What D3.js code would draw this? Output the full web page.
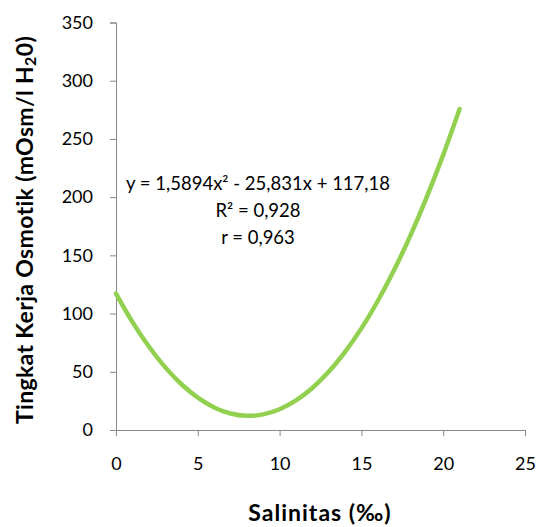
<!DOCTYPE html>
<html>
<head>
<meta charset="utf-8">
<script src="https://cdn.jsdelivr.net/npm/d3@7"></script>
<style>
  body { margin: 0; background: #fff; }
  svg { display: block; font-family: Lato, "Liberation Sans", sans-serif; }
</style>
</head>
<body>
<div id="chart"></div>
<script>
// salinitas (‰) dan tingkat kerja osmotik
const salinity = [0, 1, 2, 3, 4, 5, 6, 7, 8, 9, 10, 11, 12, 13, 14, 15, 16, 17, 18, 19, 20, 21];
const osmotic = [117.2, 92.9, 71.9, 54.0, 39.3, 27.8, 19.4, 14.2, 12.2, 13.4, 17.8, 25.4, 36.1, 50.0, 67.1, 87.3, 110.8, 137.4, 167.2, 200.2, 236.3, 275.6];
const xTicks = [0, 5, 10, 15, 20, 25];
const yTicks = [0, 50, 100, 150, 200, 250, 300, 350];
const eqLines = ['y = 1,5894x² - 25,831x + 117,18', 'R² = 0,928', 'r = 0,963'];

const width = 538, height = 527;
const svg = d3.select('#chart').append('svg')
  .attr('width', width)
  .attr('height', height);

const x = d3.scaleLinear().domain([0, 25]).range([116, 525]);
const y = d3.scaleLinear().domain([0, 350]).range([430, 22.5]);

// sumbu y
const yAxis = svg.append('g')
  .attr('transform', `translate(${x(0)},0)`)
  .call(d3.axisLeft(y).tickValues(yTicks).tickSize(6).tickPadding(17));
// sumbu x
const xAxis = svg.append('g')
  .attr('transform', `translate(0,${y(0)})`)
  .call(d3.axisBottom(x).tickValues(xTicks).tickSize(6).tickPadding(21));

[yAxis, xAxis].forEach(a => {
  a.selectAll('path, line').attr('stroke', '#888').attr('stroke-width', 1);
  a.selectAll('text').attr('font-size', 18).attr('fill', '#000')
    .attr('font-family', 'Lato, "Liberation Sans", sans-serif');
});

// kurva
const line = d3.line()
  .x((d, i) => x(salinity[i]))
  .y(d => y(d))
  .curve(d3.curveCatmullRom);

svg.append('path')
  .datum(osmotic)
  .attr('d', line)
  .attr('fill', 'none')
  .attr('stroke', '#92D050')
  .attr('stroke-width', 4.5)
  .attr('stroke-linecap', 'round');

// persamaan
svg.append('g').selectAll('text')
  .data(eqLines)
  .join('text')
  .attr('x', 258)
  .attr('y', (d, i) => 190 + i * 27)
  .attr('text-anchor', 'middle')
  .attr('font-size', 18.5)
  .attr('fill', '#000')
  .text(d => d);

// label sumbu
svg.append('text')
  .attr('x', 320)
  .attr('y', 521)
  .attr('text-anchor', 'middle')
  .attr('font-size', 23)
  .attr('font-weight', 'bold')
  .attr('letter-spacing', 1)
  .text('Salinitas (‰)');

const yl = svg.append('text')
  .attr('transform', 'translate(33,230) rotate(-90)')
  .attr('text-anchor', 'middle')
  .attr('font-size', 23)
  .attr('font-weight', 'bold')
  .attr('letter-spacing', 0.35);
yl.append('tspan').text('Tingkat Kerja Osmotik (mOsm/l H');
yl.append('tspan').attr('font-size', 16).attr('dy', 3).text('2');
yl.append('tspan').attr('dy', -3).text('0)');
</script>
</body>
</html>
